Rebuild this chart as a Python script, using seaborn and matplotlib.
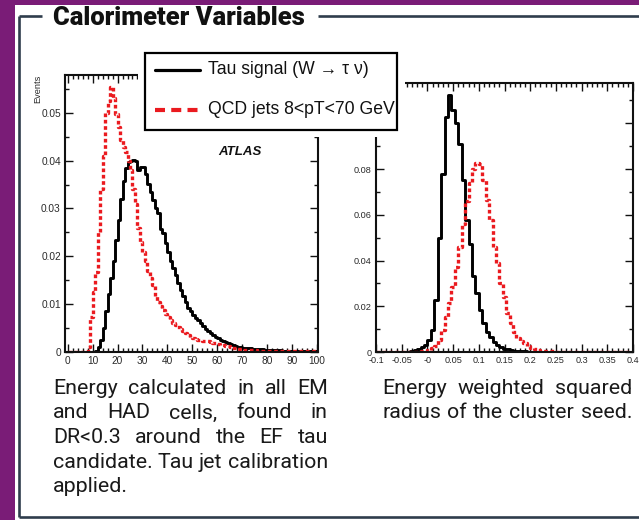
import numpy as np
import pandas as pd
import matplotlib
matplotlib.use("Agg")
import matplotlib.pyplot as plt
import seaborn as sns
from matplotlib.patches import Rectangle
from matplotlib.lines import Line2D
from matplotlib.ticker import FixedLocator, FixedFormatter, MultipleLocator

# ---------------- data ----------------
series_labels = ["Tau signal (W \u2192 \u03c4 \u03bd)", "QCD jets 8<pT<70 GeV"]

# left panel: energy in DR<0.3, 1 GeV bins from 0 to 100
energy_range = (0.0, 100.0)
sig_energy = [0, 0, 0, 0, 0, 0, 0, 0, 0, 0, 0,
              0.0003, 0.0011, 0.0025, 0.0050, 0.0085, 0.0122, 0.0155, 0.0190, 0.0235, 0.0275,
              0.0320, 0.0358, 0.0385, 0.0398, 0.0400, 0.0402, 0.0400, 0.0380, 0.0387, 0.0386,
              0.0373, 0.0352, 0.0335, 0.0318, 0.0300, 0.0290, 0.0258, 0.0248, 0.0228, 0.0208,
              0.0190, 0.0175, 0.0160, 0.0145, 0.0130, 0.0118, 0.0105, 0.0092, 0.0085, 0.0078,
              0.0072, 0.0066, 0.0060, 0.0054, 0.0049, 0.0044, 0.0040, 0.0036, 0.0032, 0.0029,
              0.0026, 0.0023, 0.0020, 0.0018, 0.0016, 0.0014, 0.0012, 0.0011, 0.0010, 0.0009,
              0.0009, 0.0008, 0.0008, 0.0007, 0.0007, 0.0006, 0.0006, 0.0006, 0.0005, 0.0005,
              0.0005, 0.0004, 0.0004, 0.0004, 0.0004,
              0.0003, 0.0003, 0.0003, 0.0003, 0.0003, 0.0003, 0.0003, 0.0003, 0.0003, 0.0003,
              0.0003, 0.0003, 0.0003, 0.0003]
qcd_energy = [0, 0, 0, 0, 0, 0, 0, 0,
              0.0011, 0.0074, 0.0125, 0.0168, 0.0250, 0.0340, 0.0410, 0.0500, 0.0525, 0.0554,
              0.0530, 0.0498, 0.0470, 0.0443, 0.0428, 0.0418, 0.0400, 0.0380, 0.0340, 0.0310,
              0.0260, 0.0230, 0.0210, 0.0190, 0.0170, 0.0155, 0.0140, 0.0118, 0.0105, 0.0096,
              0.0088, 0.0080, 0.0073, 0.0066, 0.0061, 0.0056, 0.0052, 0.0048, 0.0044, 0.0040,
              0.0036, 0.0032, 0.0030, 0.0028, 0.0026, 0.0025, 0.0024, 0.0024, 0.0022, 0.0021,
              0.0019, 0.0018, 0.0016, 0.0015, 0.0014, 0.0013, 0.0012, 0.0010, 0.0009, 0.0008,
              0.0007, 0.0006, 0.0005,
              0.0004, 0.0004, 0.0004, 0.0004, 0.0004,
              0.0003, 0.0003, 0.0003, 0.0003, 0.0003, 0.0003, 0.0003, 0.0003, 0.0003, 0.0003,
              0.0002, 0.0002, 0.0002, 0.0002, 0.0002, 0.0002, 0.0002, 0.0002, 0.0002, 0.0002,
              0.0002, 0.0002, 0.0002, 0.0002]

# right panel: energy weighted squared radius, 75 bins from -0.1 to 0.4
radius_range = (-0.1, 0.4)
sig_radius = [0, 0, 0, 0, 0, 0, 0, 0,
              0.0001, 0.0002, 0.0004, 0.0007, 0.0012, 0.0020, 0.0030, 0.0052, 0.0096, 0.0227,
              0.0500, 0.0780, 0.1028, 0.1122, 0.1060, 0.1000, 0.0910, 0.0750, 0.0576, 0.0470,
              0.0333, 0.0257, 0.0183, 0.0126, 0.0089, 0.0064, 0.0044, 0.0030, 0.0021, 0.0015,
              0.0011, 0.0008, 0.0006, 0.0005, 0.0004, 0.0003, 0.0002, 0.0002, 0.0001, 0.0001,
              0, 0, 0, 0, 0, 0, 0, 0, 0, 0, 0, 0, 0, 0, 0, 0, 0, 0, 0, 0, 0, 0, 0, 0, 0, 0, 0]
qcd_radius = [0, 0, 0, 0, 0, 0, 0, 0, 0, 0, 0, 0,
              0.0001, 0.0003, 0.0006, 0.0010, 0.0016, 0.0025, 0.0052, 0.0096, 0.0154, 0.0213,
              0.0285, 0.0370, 0.0460, 0.0560, 0.0660, 0.0740, 0.0800, 0.0825, 0.0822, 0.0751,
              0.0664, 0.0576, 0.0460, 0.0388, 0.0300, 0.0242, 0.0169, 0.0125, 0.0089, 0.0060,
              0.0048, 0.0038, 0.0025, 0.0018, 0.0012, 0.0008, 0.0006, 0.0004, 0.0003, 0.0003,
              0.0002, 0.0002, 0.0001, 0.0001,
              0, 0, 0, 0, 0, 0, 0, 0, 0, 0, 0, 0, 0, 0, 0, 0, 0, 0, 0]

left_xticks = [0, 10, 20, 30, 40, 50, 60, 70, 80, 90, 100]
left_xticklabels = ["0", "10", "20", "30", "40", "50", "60", "70", "80", "90", "100"]
left_yticks = [0, 0.01, 0.02, 0.03, 0.04, 0.05]
left_yticklabels = ["0", "0.01", "0.02", "0.03", "0.04", "0.05"]
right_xticks = [-0.1, -0.05, 0.0, 0.05, 0.1, 0.15, 0.2, 0.25, 0.3, 0.35, 0.4]
right_xticklabels = ["-0.1", "-0.05", "-0", "0.05", "0.1", "0.15", "0.2", "0.25", "0.3", "0.35", "0.4"]
right_yticks = [0, 0.02, 0.04, 0.06, 0.08, 0.1]
right_yticklabels = ["0", "0.02", "0.04", "0.06", "0.08", "0.1"]

y_label = "Events"
atlas_label = "ATLAS"
title_text = "Calorimeter Variables"
para_left = ["Energy calculated in all EM",
             "and HAD cells, found in",
             "DR<0.3 around the EF tau",
             "candidate. Tau jet calibration",
             "applied."]
para_right = ["Energy weighted squared",
              "radius of the cluster seed."]

# ---------------- style ----------------
sns.set_theme(style="white")
plt.rcParams['font.family'] = ['Liberation Sans', 'DejaVu Sans']

W, H = 639, 520
fig = plt.figure(figsize=(W / 100, H / 100), dpi=100)
fig.patch.set_facecolor("white")
renderer = fig.canvas.get_renderer()


def fx(x):
    return x / W


def fy(y):
    return 1 - y / H


PURPLE = "#7a1c77"
RED = "#ea1a1f"
FRAME = "#2f3d4c"
PARA_FONT = ['Roboto', 'DejaVu Sans']

# slide decorations
fig.add_artist(Rectangle((0, 0), fx(15), 1, transform=fig.transFigure,
                         facecolor=PURPLE, edgecolor="none", zorder=0))
fig.add_artist(Rectangle((0, fy(5)), 1, 5 / H, transform=fig.transFigure,
                         facecolor=PURPLE, edgecolor="none", zorder=0))
frame_kw = dict(transform=fig.transFigure, color=FRAME, lw=1.9, zorder=1,
                solid_capstyle="butt")
fig.add_artist(Line2D([fx(19), fx(19)], [fy(16), fy(517)], **frame_kw))
fig.add_artist(Line2D([fx(19), fx(639)], [fy(517), fy(517)], **frame_kw))
fig.add_artist(Line2D([fx(19), fx(42)], [fy(16), fy(16)], **frame_kw))
fig.add_artist(Line2D([fx(318), fx(639)], [fy(16), fy(16)], **frame_kw))


def fit_size(text, target_px, family, weight="normal", style="normal"):
    t = fig.text(0, 0, text, fontsize=10, family=family, weight=weight, style=style)
    w = t.get_window_extent(renderer).width
    t.remove()
    return 10 * target_px / w


# title
ts = fit_size(title_text, 251, PARA_FONT, weight="heavy")
fig.text(fx(53), fy(18), title_text, fontsize=ts, family=PARA_FONT, weight="heavy",
         ha="left", va="center", color="#111111")

# ---------------- panels ----------------
axL = fig.add_axes([fx(65), fy(352), 253 / W, 277 / H])
axR = fig.add_axes([fx(376), fy(352), 257 / W, 269 / H])


def draw_hist(ax, values, rng, color, lw, ls):
    n = len(values)
    step = (rng[1] - rng[0]) / n
    centers = rng[0] + step * (np.arange(n) + 0.5)
    df = pd.DataFrame({"x": centers, "w": np.asarray(values, dtype=float)})
    sns.histplot(data=df, x="x", weights="w", bins=n, binrange=rng, element="step",
                 fill=False, color=color, linewidth=lw, linestyle=ls, ax=ax)


draw_hist(axL, sig_energy, energy_range, "black", 2.1, "-")
draw_hist(axL, qcd_energy, energy_range, RED, 2.4, (0, (1.1, 0.8)))
draw_hist(axR, sig_radius, radius_range, "black", 2.1, "-")
draw_hist(axR, qcd_radius, radius_range, RED, 2.4, (0, (1.1, 0.8)))

axL.set_xlim(-1.1, 100.5)
axL.set_ylim(0, 0.0579)
axR.set_xlim(-0.1, 0.4)
axR.set_ylim(0, 0.1176)


def style_axis(ax, xt, xl, yt, yl, xminor, yminor, lsize):
    ax.set_xlabel("")
    ax.set_ylabel("")
    ax.set_facecolor("white")
    ax.xaxis.set_major_locator(FixedLocator(xt))
    ax.xaxis.set_major_formatter(FixedFormatter(xl))
    ax.yaxis.set_major_locator(FixedLocator(yt))
    ax.yaxis.set_major_formatter(FixedFormatter(yl))
    ax.xaxis.set_minor_locator(MultipleLocator(xminor))
    ax.yaxis.set_minor_locator(MultipleLocator(yminor))
    ax.tick_params(which="both", direction="in", top=True, right=True,
                   bottom=True, left=True, colors="#111111", width=1.0)
    ax.tick_params(which="major", length=6, labelsize=lsize, labelcolor="#2a2a2a", pad=3)
    ax.tick_params(which="minor", length=3)
    for s in ax.spines.values():
        s.set_visible(True)
        s.set_color("#111111")
        s.set_linewidth(1.5)


style_axis(axL, left_xticks, left_xticklabels, left_yticks, left_yticklabels, 2, 0.005, 7.3)
style_axis(axR, right_xticks, right_xticklabels, right_yticks, right_yticklabels, 0.01, 0.01, 6.6)

fig.text(fx(38), fy(75), y_label, rotation=90, ha="center", va="top",
         fontsize=6.6, color="#2a2a2a")
fig.text(fx(240), fy(152), atlas_label, ha="center", va="center", fontsize=9.5,
         weight="bold", style="italic", color="#111111")

# ---------------- legend box ----------------
lax = fig.add_axes([fx(138), fy(137), (405 - 138) / W, (137 - 47) / H], zorder=10)
lax.set_xlim(138, 405)
lax.set_ylim(137, 47)
lax.axis("off")
lax.add_patch(Rectangle((138, 47), 267, 90, facecolor="white", edgecolor="none", clip_on=False))
lax.add_patch(Rectangle((145, 53), 252, 77, facecolor="white", edgecolor="black", lw=1.6,
                        clip_on=False))
lax.add_line(Line2D([155, 200], [70, 70], color="black", lw=2.3))
lax.add_line(Line2D([155, 200], [110, 110], color=RED, lw=3.0, dashes=(2.4, 1.5)))
ls_ = fit_size(series_labels[0], 162, ['Liberation Sans', 'DejaVu Sans'])
lax.text(208, 70, series_labels[0], ha="left", va="center", fontsize=ls_,
         family=['Liberation Sans', 'DejaVu Sans'], color="#111111")
lax.text(208, 110, series_labels[1], ha="left", va="center", fontsize=ls_,
         family=['Liberation Sans', 'DejaVu Sans'], color="#111111")

# ---------------- paragraphs ----------------
psize = fit_size(para_left[3], 275, PARA_FONT)


def place_line(text, x0, x1, ybase, justify):
    words = text.split(" ")
    ts_ = [fig.text(0, 0, w, fontsize=psize, family=PARA_FONT, ha="left", va="baseline",
                    color="#1a1a1a") for w in words]
    widths = [t.get_window_extent(renderer).width for t in ts_]
    if justify and len(words) > 1:
        gap = (x1 - x0 - sum(widths)) / (len(words) - 1)
    else:
        sp = fig.text(0, 0, "a a", fontsize=psize, family=PARA_FONT)
        sp2 = fig.text(0, 0, "aa", fontsize=psize, family=PARA_FONT)
        gap = sp.get_window_extent(renderer).width - sp2.get_window_extent(renderer).width
        sp.remove()
        sp2.remove()
    x = x0
    for t, w in zip(ts_, widths):
        t.set_position((fx(x), fy(ybase)))
        x += w + gap


for i, line in enumerate(para_left):
    place_line(line, 53, 328, 394 + 24.5 * i, justify=(i < len(para_left) - 1))
for i, line in enumerate(para_right):
    place_line(line, 382, 632, 394 + 24.5 * i, justify=True)

fig.savefig("out.png", dpi=100, facecolor=fig.get_facecolor())
